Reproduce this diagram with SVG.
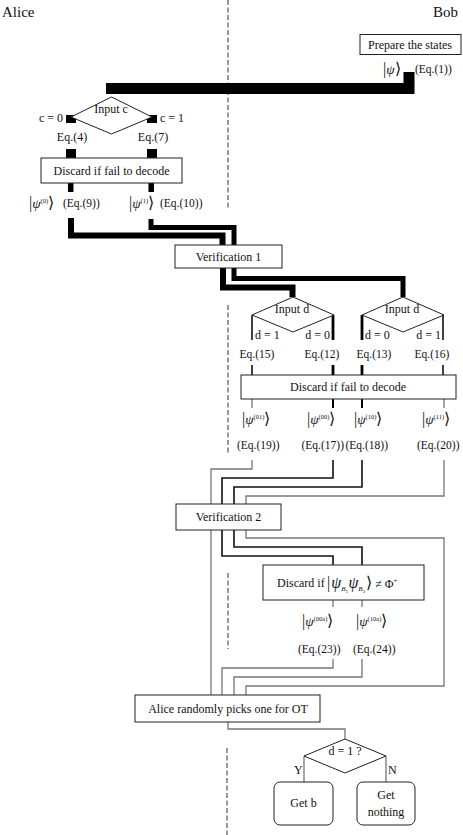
<svg xmlns="http://www.w3.org/2000/svg" width="463" height="835" viewBox="0 0 463 835">
<style>
.box{fill:#fff;stroke:#222;stroke-width:1}
.t{font-family:"Liberation Serif","Times New Roman",serif;font-size:12px;fill:#111}
.s{font-size:11.5px}
.m{text-anchor:middle}
.e{text-anchor:end}
.big{font-size:16px}
.psi{font-style:italic;font-size:13.5px}
.sup{font-size:6.5px}
.dash{stroke:#333;stroke-width:1;stroke-dasharray:5 2.5;fill:none}
.thick{fill:none;stroke:#000}
.gray{fill:none;stroke:#777;stroke-width:1.3}
.blk{fill:none;stroke:#111;stroke-width:1.6}
</style>
<g id="swimlane">
<path class="dash" d="M228,0V210M228,305V455M228,573V649M227,748V835"/>
<text class="t" x="2" y="17" style="font-size:15px">Alice</text>
<text class="t e" x="458" y="17" style="font-size:15px">Bob</text>
</g>
<g id="connectors">
<path class="thick" stroke-width="11" d="M409,72V88.5H106"/>
<path class="thick" stroke-width="10" d="M71,115V123M71,149V158M152,115V123M152,149V158"/>
<path class="thick" stroke-width="5.5" d="M70.7,183V192M151.2,183V192"/>
<path class="thick" stroke-width="6" d="M71,218V235.5H222.5V245"/>
<path class="thick" stroke-width="5" d="M151,219V227.5H234V245"/>
<path class="thick" stroke-width="6" d="M223,268V287.5H292.5V297"/>
<path class="thick" stroke-width="5" d="M234,268V278.5H403V297"/>
<path class="blk" stroke-width="1.3" d="M252,315V340M252,365V375M443,315V340M443,365V375"/>
<path class="thick" stroke-width="2.8" d="M333,315V340M333,365V375M362,315V340M362,365V375"/>
<path class="gray" d="M252,399V408M444,399V408"/>
<path class="thick" stroke-width="2" d="M333,399V408M362,399V408"/>
<path class="gray" d="M252,460V469H211V695"/>
<path class="blk" d="M333,460V478H222V504M222,530V556H333V565"/>
<path class="blk" d="M362,460V487H234V504M234,530V547H362V565"/>
<path class="gray" d="M444,460V496H246V504M246,530V538H444V686H246V695"/>
<path class="gray" d="M333,600V607M362,600V607"/>
<path class="gray" d="M333,659V668H222V695"/>
<path class="gray" d="M362,659V677H234V695"/>
<path class="gray" d="M228,722V729H345V739"/>
<path class="gray" d="M304,756V782M386,756V782"/>
</g>
<g id="prepare">
<rect class="box" x="360" y="34.5" width="101" height="20"/>
<text class="t m" x="410" y="48.5">Prepare the states</text>
<text class="t" x="383" y="74"><tspan class="big">|</tspan><tspan class="psi">ψ</tspan><tspan class="big">⟩</tspan></text>
<text class="t s" x="415" y="73">(Eq.(1))</text>
</g>
<g id="inputc">
<polygon class="box" points="111.5,97 152,117 111.5,134 71,117"/>
<text class="t m" x="111" y="113">Input c</text>
<text class="t e" x="63" y="122">c = 0</text>
<text class="t" x="160" y="122">c = 1</text>
<text class="t m" x="72" y="141">Eq.(4)</text>
<text class="t m" x="153" y="141">Eq.(7)</text>
</g>
<g id="discard1">
<rect class="box" x="41" y="158" width="141" height="25"/>
<text class="t m" x="111.5" y="174.5">Discard if fail to decode</text>
<text class="t" x="29" y="208"><tspan class="big">|</tspan><tspan class="psi">ψ</tspan><tspan class="sup" dy="-5">(0)</tspan><tspan class="big" dy="5">⟩</tspan></text>
<text class="t s" x="63" y="207">(Eq.(9))</text>
<text class="t" x="129" y="208"><tspan class="big">|</tspan><tspan class="psi">ψ</tspan><tspan class="sup" dy="-5">(1)</tspan><tspan class="big" dy="5">⟩</tspan></text>
<text class="t s" x="160" y="207">(Eq.(10))</text>
</g>
<g id="verification1">
<rect class="box" x="175" y="245" width="107" height="23"/>
<text class="t m" x="228.5" y="260.5">Verification 1</text>
</g>
<g id="inputd1">
<polygon class="box" points="293,297 334,315 293,332 252,315"/>
<text class="t m" x="292" y="313">Input d</text>
<text class="t" x="255" y="339">d = 1</text>
<text class="t e" x="330" y="339">d = 0</text>
<text class="t s m" x="257" y="358">Eq.(15)</text>
<text class="t s m" x="322" y="358">Eq.(12)</text>
</g>
<g id="inputd2">
<polygon class="box" points="403,297 444,315 403,332 362,315"/>
<text class="t m" x="402" y="313">Input d</text>
<text class="t" x="365" y="339">d = 0</text>
<text class="t e" x="441" y="339">d = 1</text>
<text class="t s m" x="374" y="358">Eq.(13)</text>
<text class="t s m" x="432" y="358">Eq.(16)</text>
</g>
<g id="discard2">
<rect class="box" x="241" y="375" width="215" height="24"/>
<text class="t m" x="348" y="391">Discard if fail to decode</text>
<text class="t" x="242" y="424"><tspan class="big">|</tspan><tspan class="psi">ψ</tspan><tspan class="sup" dy="-5">(01)</tspan><tspan class="big" dy="5">⟩</tspan></text>
<text class="t" x="307" y="424"><tspan class="big">|</tspan><tspan class="psi">ψ</tspan><tspan class="sup" dy="-5">(00)</tspan><tspan class="big" dy="5">⟩</tspan></text>
<text class="t" x="354" y="424"><tspan class="big">|</tspan><tspan class="psi">ψ</tspan><tspan class="sup" dy="-5">(10)</tspan><tspan class="big" dy="5">⟩</tspan></text>
<text class="t" x="422" y="424"><tspan class="big">|</tspan><tspan class="psi">ψ</tspan><tspan class="sup" dy="-5">(11)</tspan><tspan class="big" dy="5">⟩</tspan></text>
<text class="t s" x="237" y="449">(Eq.(19))</text>
<text class="t s" x="301.5" y="449">(Eq.(17))</text>
<text class="t s" x="345.5" y="449">(Eq.(18))</text>
<text class="t s" x="417" y="449">(Eq.(20))</text>
</g>
<g id="verification2">
<rect class="box" x="176" y="504" width="105" height="26"/>
<text class="t m" x="228.5" y="521">Verification 2</text>
</g>
<g id="discard3">
<rect class="box" x="263" y="565" width="161" height="35"/>
<text class="t" x="277" y="587">Discard if</text>
<text class="t" x="327" y="588"><tspan class="big">|</tspan><tspan font-style="italic" font-size="16" dx="1">ψ</tspan><tspan font-style="italic" font-size="7" dy="3">B</tspan><tspan font-size="5" dy="1.5">1</tspan><tspan font-style="italic" font-size="16" dy="-4.5" dx="0.5">ψ</tspan><tspan font-style="italic" font-size="7" dy="3">B</tspan><tspan font-size="5" dy="1.5">2</tspan><tspan class="big" dy="-4.5" dx="1">⟩</tspan><tspan dx="3">≠ Φ</tspan><tspan font-size="7" dy="-5">+</tspan></text>
<text class="t" x="302" y="626"><tspan class="big">|</tspan><tspan class="psi">ψ</tspan><tspan class="sup" dy="-5">(00a)</tspan><tspan class="big" dy="5">⟩</tspan></text>
<text class="t" x="356" y="626"><tspan class="big">|</tspan><tspan class="psi">ψ</tspan><tspan class="sup" dy="-5">(10a)</tspan><tspan class="big" dy="5">⟩</tspan></text>
<text class="t s" x="298" y="653">(Eq.(23))</text>
<text class="t s" x="353" y="653">(Eq.(24))</text>
</g>
<g id="alicepicks">
<rect class="box" x="135" y="695" width="185" height="27"/>
<text class="t m" x="228" y="712.5">Alice randomly picks one for OT</text>
</g>
<g id="decision">
<polygon class="box" points="345,739 386,756 345,773 304,756"/>
<text class="t m" x="345" y="755">d = 1 ?</text>
<text class="t" x="294" y="774">Y</text>
<text class="t" x="388" y="774">N</text>
</g>
<g id="getb">
<rect class="box" x="274" y="782" width="59" height="43" rx="6"/>
<text class="t m" x="303.5" y="807">Get b</text>
</g>
<g id="getnothing">
<rect class="box" x="357" y="782" width="58" height="43" rx="6"/>
<text class="t m" x="386" y="799">Get</text>
<text class="t m" x="386" y="816">nothing</text>
</g>
</svg>
